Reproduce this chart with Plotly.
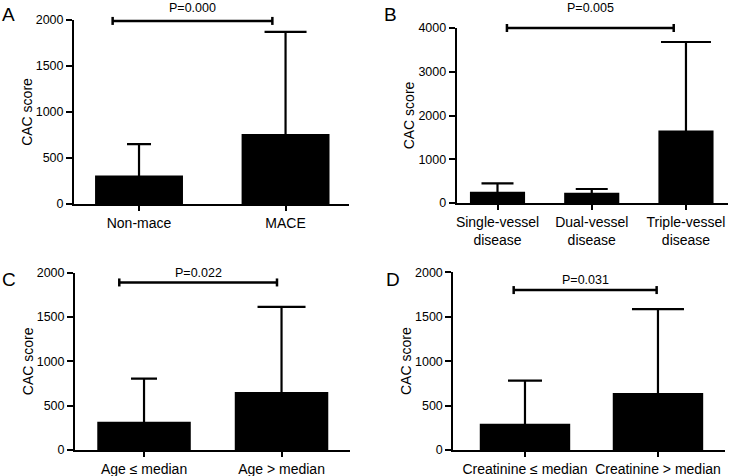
import plotly.graph_objects as go

W, H = 732, 476
FONT = "Liberation Sans, Arial, sans-serif"

# ---- data ----
a_cats = ["Non-mace", "MACE"]
a_mean = [310, 760]
a_upper = [650, 1870]

b_cats = ["Single-vessel<br>disease", "Dual-vessel<br>disease", "Triple-vessel<br>disease"]
b_mean = [258, 236, 1655]
b_upper = [450, 320, 3680]

c_cats = ["Age ≤ median", "Age > median"]
c_mean = [320, 655]
c_upper = [805, 1615]

d_cats = ["Creatinine ≤ median", "Creatinine > median"]
d_mean = [296, 642]
d_upper = [780, 1585]

y_ticks_a = [0, 500, 1000, 1500, 2000]
y_ticks_b = [0, 1000, 2000, 3000, 4000]
y_ticks_c = [0, 500, 1000, 1500, 2000]
y_ticks_d = [0, 500, 1000, 1500, 2000]

p_text = ["P=0.000", "P=0.005", "P=0.022", "P=0.031"]
bracket_level = [1990, 4000, 1890, 1800]
bracket_from = [-0.18, 0.10, -0.18, -0.085]
bracket_to = [0.91, 1.87, 0.967, 0.99]
panel_letters = ["A", "B", "C", "D"]

# ---- layout geometry (pixels) ----
panels = [
    dict(cats=a_cats, mean=a_mean, upper=a_upper, ticks=y_ticks_a,
         px=(74, 349), py=(20, 204), xr=(-0.4437, 1.433), bw=0.6, caps=[12, 21],
         letter=(8, 14), ptext_dy=13),
    dict(cats=b_cats, mean=b_mean, upper=b_upper, ticks=y_ticks_b,
         px=(456.7, 728), py=(28, 203), xr=(-0.433, 2.446), bw=0.585, caps=[16, 16, 25],
         letter=(390, 14), ptext_dy=20),
    dict(cats=c_cats, mean=c_mean, upper=c_upper, ticks=y_ticks_c,
         px=(75, 350), py=(272.7, 450), xr=(-0.502, 1.498), bw=0.68, caps=[13, 24],
         letter=(9, 279), ptext_dy=9.5),
    dict(cats=d_cats, mean=d_mean, upper=d_upper, ticks=y_ticks_d,
         px=(453.3, 725), py=(272.3, 450), xr=(-0.539, 1.504), bw=0.68, caps=[17, 26],
         letter=(393, 279), ptext_dy=9.6),
]

fig = go.Figure()
layout = dict(
    width=W, height=H, margin=dict(l=0, r=0, t=0, b=0, autoexpand=False),
    paper_bgcolor="white", plot_bgcolor="white",
    showlegend=False, barmode="overlay",
    font=dict(family=FONT, color="black"),
)
shapes = []
annotations = []

for i, p in enumerate(panels):
    n = "" if i == 0 else str(i + 1)
    xa, ya = "x" + n, "y" + n
    ymax = p["ticks"][-1]
    xd = [p["px"][0] / W, p["px"][1] / W]
    yd = [1 - p["py"][1] / H, 1 - p["py"][0] / H]
    for j, cat in enumerate(p["cats"]):
        fig.add_trace(go.Bar(
            x=[cat], y=[p["mean"][j]], width=[p["bw"]],
            marker=dict(color="black", line=dict(width=0)),
            error_y=dict(type="data", symmetric=False,
                         array=[p["upper"][j] - p["mean"][j]], arrayminus=[p["mean"][j]],
                         color="black", thickness=2.2, width=p["caps"][j]),
            xaxis=xa, yaxis=ya, hoverinfo="skip",
        ))
    layout["xaxis" + n] = dict(
        domain=xd, anchor=ya, type="category", range=list(p["xr"]), automargin=False,
        showgrid=False, zeroline=False, showline=True, linecolor="black", linewidth=2,
        ticks="outside", ticklen=5, tickwidth=1.5, tickcolor="black",
        tickfont=dict(size=14, family=FONT, color="black"),
        categoryorder="array", categoryarray=p["cats"],
    )
    layout["yaxis" + n] = dict(
        domain=yd, anchor=xa, range=[0, ymax], automargin=False,
        tickvals=p["ticks"], ticktext=[str(t) for t in p["ticks"]],
        showgrid=False, zeroline=False, showline=True, linecolor="black", linewidth=2,
        ticks="outside", ticklen=6, tickwidth=1.5, tickcolor="black",
        tickfont=dict(size=12.5, family=FONT, color="black"),
        title=dict(text="CAC score", font=dict(size=14, family=FONT, color="black"), standoff=0),
    )
    # significance bracket
    yb = yd[0] + bracket_level[i] / ymax * (yd[1] - yd[0])
    shapes.append(dict(type="line", xref=xa, yref="paper",
                       x0=bracket_from[i], x1=bracket_to[i], y0=yb, y1=yb,
                       line=dict(color="black", width=2.5)))
    for xe in (bracket_from[i], bracket_to[i]):
        shapes.append(dict(type="line", xref=xa, yref="paper",
                           x0=xe, x1=xe, y0=yb - 4 / H, y1=yb + 4 / H,
                           line=dict(color="black", width=2.5)))
    annotations.append(dict(
        xref=xa, yref="paper", x=(bracket_from[i] + bracket_to[i]) / 2,
        y=yb + p["ptext_dy"] / H, text=p_text[i], showarrow=False,
        xanchor="center", yanchor="middle",
        font=dict(size=12.5, family=FONT, color="black")))
    annotations.append(dict(
        xref="paper", yref="paper", x=p["letter"][0] / W, y=1 - p["letter"][1] / H,
        text=panel_letters[i], showarrow=False, xanchor="center", yanchor="middle",
        font=dict(size=19, family=FONT, color="black")))

layout["shapes"] = shapes
layout["annotations"] = annotations
fig.update_layout(**layout)
fig.write_html(
    "out.html",
    config={"displayModeBar": False},
    post_script="document.body.style.margin='0';document.body.style.overflow='hidden';",
)
